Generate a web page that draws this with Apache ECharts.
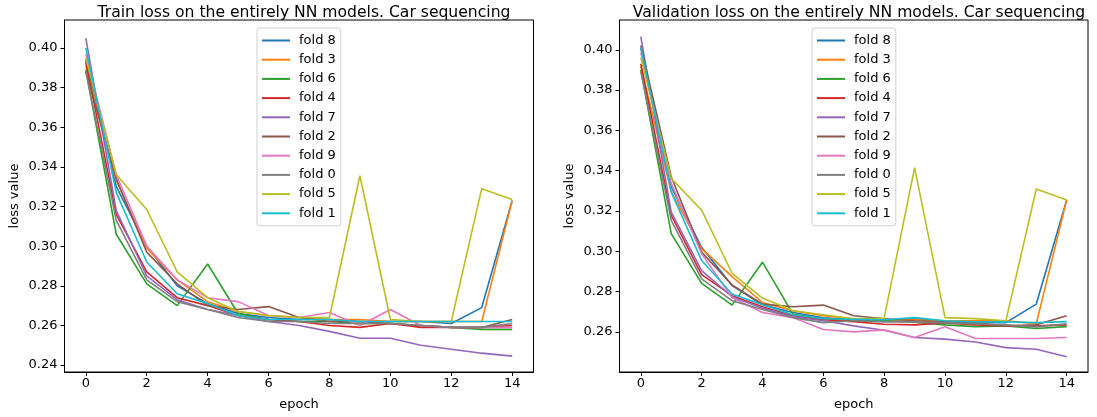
<!DOCTYPE html>
<html>
<head>
<meta charset="utf-8">
<script src="https://cdn.jsdelivr.net/npm/echarts@6/dist/echarts.min.js"></script>
<style>
  html, body { margin: 0; padding: 0; background: #fff; }
  #main { width: 1097px; height: 417px; }
</style>
</head>
<body>
<div id="main"></div>
<script>
// epochs on the x axis
var epochs = [0, 1, 2, 3, 4, 5, 6, 7, 8, 9, 10, 11, 12, 13, 14];
var xTicks = [0, 2, 4, 6, 8, 10, 12, 14];
var yTicks = [0.24, 0.26, 0.28, 0.30, 0.32, 0.34, 0.36, 0.38, 0.40];

var foldNames = ['fold 8', 'fold 3', 'fold 6', 'fold 4', 'fold 7', 'fold 2', 'fold 9', 'fold 0', 'fold 5', 'fold 1'];
var foldColors = ['#1f77b4', '#ff7f0e', '#2ca02c', '#d62728', '#9467bd', '#8c564b', '#e377c2', '#7f7f7f', '#bcbd22', '#17becf'];

// train loss, one array per fold
var trainFold8 = [0.394, 0.330, 0.300, 0.280, 0.271, 0.266, 0.264, 0.263, 0.263, 0.262, 0.262, 0.262, 0.261, 0.269, 0.323];
var trainFold3 = [0.391, 0.333, 0.299, 0.283, 0.272, 0.267, 0.265, 0.264, 0.263, 0.263, 0.262, 0.262, 0.262, 0.262, 0.323];
var trainFold6 = [0.389, 0.306, 0.281, 0.270, 0.291, 0.266, 0.263, 0.262, 0.262, 0.261, 0.261, 0.260, 0.259, 0.258, 0.258];
var trainFold4 = [0.393, 0.316, 0.287, 0.274, 0.270, 0.265, 0.263, 0.262, 0.260, 0.259, 0.261, 0.259, 0.259, 0.259, 0.260];
var trainFold7 = [0.405, 0.318, 0.285, 0.273, 0.268, 0.265, 0.262, 0.260, 0.257, 0.2535, 0.2535, 0.250, 0.248, 0.246, 0.2445];
var trainFold2 = [0.388, 0.334, 0.297, 0.281, 0.270, 0.268, 0.2695, 0.264, 0.262, 0.262, 0.261, 0.260, 0.259, 0.259, 0.263];
var trainFold9 = [0.397, 0.336, 0.300, 0.283, 0.274, 0.272, 0.265, 0.264, 0.2665, 0.260, 0.268, 0.260, 0.259, 0.259, 0.259];
var trainFold0 = [0.388, 0.313, 0.283, 0.272, 0.268, 0.264, 0.262, 0.262, 0.261, 0.261, 0.261, 0.260, 0.259, 0.259, 0.261];
var trainFold5 = [0.395, 0.336, 0.3185, 0.287, 0.274, 0.267, 0.265, 0.264, 0.264, 0.3355, 0.263, 0.262, 0.262, 0.329, 0.3235];
var trainFold1 = [0.400, 0.327, 0.292, 0.276, 0.271, 0.265, 0.263, 0.263, 0.263, 0.262, 0.262, 0.262, 0.262, 0.262, 0.262];

// validation loss, one array per fold
var valFold8 = [0.401, 0.332, 0.302, 0.283, 0.2735, 0.2696, 0.267, 0.266, 0.2658, 0.2665, 0.265, 0.265, 0.2646, 0.2738, 0.3255];
var valFold3 = [0.392, 0.3295, 0.3013, 0.2874, 0.2746, 0.2705, 0.268, 0.2665, 0.266, 0.266, 0.2655, 0.2655, 0.2655, 0.2641, 0.3255];
var valFold6 = [0.390, 0.3088, 0.2841, 0.2733, 0.2946, 0.2688, 0.2665, 0.2655, 0.2655, 0.2648, 0.2635, 0.2626, 0.263, 0.2617, 0.2626];
var valFold4 = [0.3931, 0.3179, 0.2884, 0.278, 0.2725, 0.268, 0.266, 0.2651, 0.2638, 0.2635, 0.2645, 0.2635, 0.263, 0.263, 0.2635];
var valFold7 = [0.4066, 0.3195, 0.2904, 0.2775, 0.2718, 0.2675, 0.2655, 0.263, 0.2608, 0.2572, 0.2564, 0.255, 0.2522, 0.2514, 0.2477];
var valFold2 = [0.4022, 0.337, 0.2996, 0.2833, 0.2738, 0.2725, 0.2733, 0.268, 0.2665, 0.2655, 0.265, 0.2645, 0.263, 0.2635, 0.268];
var valFold9 = [0.3986, 0.3337, 0.2988, 0.277, 0.2696, 0.2671, 0.2612, 0.260, 0.261, 0.2572, 0.2625, 0.2567, 0.2567, 0.2567, 0.2572];
var valFold0 = [0.3894, 0.3154, 0.2863, 0.2755, 0.2711, 0.2671, 0.2646, 0.2655, 0.265, 0.265, 0.2645, 0.264, 0.2635, 0.2625, 0.264];
var valFold5 = [0.3961, 0.3362, 0.3204, 0.2891, 0.2768, 0.2705, 0.2685, 0.2665, 0.2668, 0.3415, 0.2671, 0.2666, 0.2655, 0.3309, 0.3255];
var valFold1 = [0.4011, 0.3295, 0.2954, 0.2788, 0.2735, 0.2685, 0.2665, 0.2663, 0.266, 0.2671, 0.2655, 0.265, 0.265, 0.2646, 0.2651];

var trainSets = [trainFold8, trainFold3, trainFold6, trainFold4, trainFold7, trainFold2, trainFold9, trainFold0, trainFold5, trainFold1];
var valSets = [valFold8, valFold3, valFold6, valFold4, valFold7, valFold2, valFold9, valFold0, valFold5, valFold1];

var FONT = 'DejaVu Sans';

function pairs(vals) {
  return epochs.map(function (e, i) { return [e, vals[i]]; });
}

function xAxisFor(idx) {
  return {
    type: 'value', gridIndex: idx, min: -0.7, max: 14.7,
    name: 'epoch', nameLocation: 'middle', nameGap: 26,
    nameTextStyle: { color: '#000', fontSize: 13, fontFamily: FONT },
    axisLine: { onZero: false, lineStyle: { color: '#000', width: 1 } },
    axisTick: { show: true, length: 4, lineStyle: { color: '#000' }, customValues: xTicks },
    axisLabel: { color: '#000', fontSize: 13, fontFamily: FONT, margin: 5, customValues: xTicks },
    splitLine: { show: false }
  };
}

function yAxisFor(idx, lo, hi) {
  return {
    type: 'value', gridIndex: idx, min: lo, max: hi,
    name: 'loss value', nameLocation: 'middle', nameGap: 43, nameRotate: 90,
    nameTextStyle: { color: '#000', fontSize: 13, fontFamily: FONT },
    axisLine: { show: true, onZero: false, lineStyle: { color: '#000', width: 1 } },
    axisTick: { show: true, length: 4, lineStyle: { color: '#000' }, customValues: yTicks },
    axisLabel: {
      color: '#000', fontSize: 13, fontFamily: FONT, margin: 7, customValues: yTicks,
      formatter: function (v) { return v.toFixed(2); }
    },
    splitLine: { show: false }
  };
}

function legendFor(left) {
  return {
    orient: 'vertical', left: left, top: 28,
    data: foldNames,
    icon: 'rect', itemWidth: 28, itemHeight: 2, itemGap: 4.2,
    padding: [5, 5, 5, 5],
    borderColor: '#d0d0d0', borderWidth: 1, borderRadius: 3,
    backgroundColor: 'rgba(255,255,255,0.8)',
    textStyle: { color: '#000', fontSize: 13, fontFamily: FONT, lineHeight: 15, padding: [0, 0, 0, 4] }
  };
}

var series = [];
[trainSets, valSets].forEach(function (sets, g) {
  sets.forEach(function (vals, i) {
    series.push({
      name: foldNames[i], type: 'line',
      xAxisIndex: g, yAxisIndex: g,
      data: pairs(vals),
      showSymbol: false, symbol: 'none',
      lineStyle: { color: foldColors[i], width: 1.6 },
      itemStyle: { color: foldColors[i] }
    });
  });
});

var myChart = echarts.init(document.getElementById('main'));
var option = {
  animation: false,
  backgroundColor: '#fff',
  title: [
    { text: 'Train loss on the entirely NN models. Car sequencing', left: 299, top: 0, textAlign: 'center',
      textStyle: { color: '#000', fontSize: 15.6, fontWeight: 'normal', fontFamily: FONT } },
    { text: 'Validation loss on the entirely NN models. Car sequencing', left: 854, top: 0, textAlign: 'center',
      textStyle: { color: '#000', fontSize: 15.6, fontWeight: 'normal', fontFamily: FONT } }
  ],
  legend: [legendFor(257), legendFor(812)],
  grid: [
    { left: 64.5, right: 563.5, top: 20, bottom: 45, show: true, borderColor: '#000', borderWidth: 1, containLabel: false },
    { left: 619.5, right: 9, top: 20, bottom: 45, show: true, borderColor: '#000', borderWidth: 1, containLabel: false }
  ],
  xAxis: [xAxisFor(0), xAxisFor(1)],
  yAxis: [yAxisFor(0, 0.2365, 0.4141), yAxisFor(1, 0.2401, 0.4148)],
  series: series
};
myChart.setOption(option);
</script>
</body>
</html>
